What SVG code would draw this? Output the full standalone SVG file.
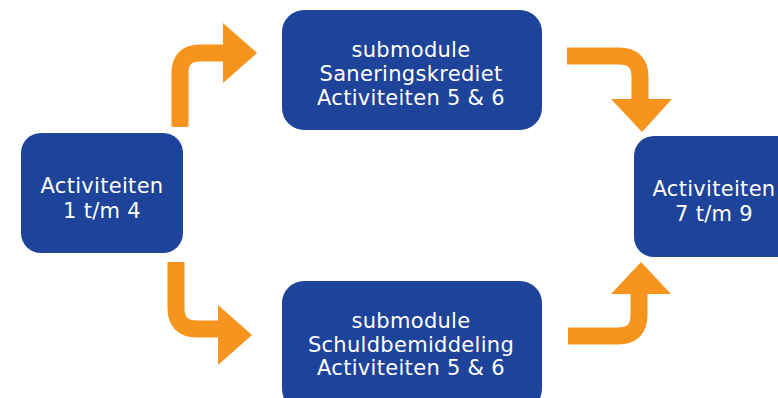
<svg xmlns="http://www.w3.org/2000/svg" width="778" height="398" viewBox="0 0 778 398">
<style>
.box{fill:#1E439B;}
.lbl{font-family:"DejaVu Sans","Verdana",sans-serif;font-size:21px;fill:#ffffff;text-anchor:middle;letter-spacing:0.3px;}
.arr{fill:none;stroke:#F7941E;stroke-width:17;}
.head{fill:#F7941E;}
</style>
<rect width="778" height="398" fill="#ffffff"/>
<g id="connectors">
  <path class="arr" d="M180,127 L180,73 Q180,53 200,53 L225,53"/>
  <polygon class="head" points="223,23 257,53 223,83"/>
  <path class="arr" d="M567,56 L619,56 Q640,56 640,77 L640,101"/>
  <polygon class="head" points="611,99 672,99 642,132"/>
  <path class="arr" d="M176,262 L176,308 Q176,329 197,329 L220,329"/>
  <polygon class="head" points="218,305 252,335 218,365"/>
  <path class="arr" d="M568,336 L618,336 Q639,336 639,315 L639,292"/>
  <polygon class="head" points="611,294 671,294 641,262"/>
</g>
<g id="node-left">
  <rect class="box" x="21" y="133" width="162" height="120" rx="20"/>
  <text class="lbl" x="102" y="193">Activiteiten</text>
  <text class="lbl" x="102" y="218">1 t/m 4</text>
</g>
<g id="node-top">
  <rect class="box" x="282" y="10" width="260" height="120" rx="22"/>
  <text class="lbl" x="411" y="57">submodule</text>
  <text class="lbl" x="411" y="81">Saneringskrediet</text>
  <text class="lbl" x="411" y="105">Activiteiten 5 &amp; 6</text>
</g>
<g id="node-bottom">
  <rect class="box" x="282" y="281" width="260" height="130" rx="22"/>
  <text class="lbl" x="411" y="328">submodule</text>
  <text class="lbl" x="411" y="352">Schuldbemiddeling</text>
  <text class="lbl" x="411" y="375">Activiteiten 5 &amp; 6</text>
</g>
<g id="node-right">
  <rect class="box" x="634" y="136" width="164" height="121" rx="20"/>
  <text class="lbl" x="714" y="196">Activiteiten</text>
  <text class="lbl" x="714" y="221">7 t/m 9</text>
</g>
</svg>
